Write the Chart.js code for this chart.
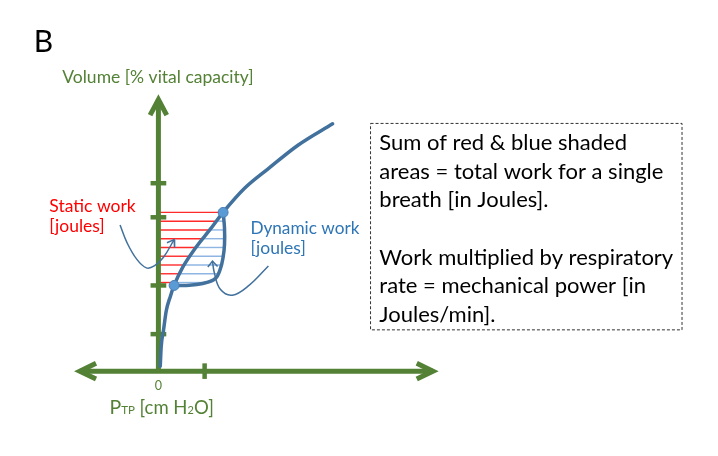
<!DOCTYPE html>
<html>
<head>
<meta charset="utf-8">
<script src="https://cdn.jsdelivr.net/npm/chart.js@4.4.1/dist/chart.umd.min.js"></script>
<style>
  html, body { margin: 0; padding: 0; background: #ffffff; }
  #wrap { width: 718px; height: 456px; }
</style>
</head>
<body>
<div id="wrap"><canvas id="pv-chart" width="718" height="456"></canvas></div>
<script>
/* ===========================
   DATA  (x: PTP [cm H2O], y: volume [% VC])
=========================== */

// inflation limb of the P-V curve
const inflationX = [0.4, 0.6, 1.1, 1.7, 2.6, 3.4, 5.3, 8.1, 11.1, 14.0, 18.7, 23.8, 30.2, 37.7];
const inflationY = [2.5, 12.5, 21, 31, 38.5, 44, 53.5, 63.5, 72.5, 81.5, 94, 104, 116, 127];

// deflation limb (the loop back to the start of the breath)
const deflationX = [14.0, 14.3, 14.3, 14.0, 13.4, 12.3, 9.6, 6.0, 3.4];
const deflationY = [81.5, 73.5, 65, 58.5, 52.5, 47.5, 45, 44, 44];

// end points of the breath
const breathX = [3.4, 14.0];
const breathY = [44, 81.5];

// hatching: red from the axis to the inflation limb, blue from there to the deflation limb
const hatchY = [81.5, 77, 72.5, 68, 63.5, 59, 54.5, 50, 45.5];
const hatchCurveX = [14.0, 12.6, 11.1, 9.6, 8.1, 6.8, 5.5, 4.6, 3.7];
const hatchLoopX = [14.0, 14.2, 14.3, 14.3, 14.3, 14.0, 13.7, 12.9, 10.2];

// axis ticks
const yTicks = [19, 44, 79, 96.5];
const xTicks = [10];
const xTickLabels = ["0"];

// annotation arrows
const staticArrowX = [-8.3, -6.8, -4.7, -2.6, -0.9, 1.1, 3.4];
const staticArrowY = [75, 66, 57.5, 53, 54, 58.5, 67.5];
const staticHeadX = [1.85, 3.4, 3.5];
const staticHeadY = [65.9, 67.5, 63.5];

const dynamicArrowX = [23.8, 19.6, 16.0, 13.4, 12.1, 11.7];
const dynamicArrowY = [54, 44, 39, 42, 50.5, 56.5];
const dynamicHeadX = [10.7, 11.7, 12.8];
const dynamicHeadY = [53.5, 56.5, 53.7];

// axes extent
const yAxisTop = 139.5;
const xAxisLeft = -17.0;
const xAxisRight = 59.4;

// note box
const boxX = [45.9, 113.3, 113.3, 45.9, 45.9];
const boxY = [127.2, 127.2, 21.2, 21.2, 127.2];
const noteLines = [
    "Sum of red & blue shaded",
    "areas = total work for a single",
    "breath [in Joules].",
    "",
    "Work multiplied by respiratory",
    "rate = mechanical power [in",
    "Joules/min]."
];

/* ===========================
   HELPERS
=========================== */

const GREEN = "#538135";
const CURVE = "#41719c";

function xy(xs, ys) {
    return xs.map((x, i) => ({ x: x, y: ys[i] }));
}

function path(points, color, width, extra) {
    return Object.assign({
        data: points,
        showLine: true,
        borderColor: color,
        borderWidth: width,
        pointRadius: 0,
        tension: 0,
        fill: false
    }, extra || {});
}

/* ===========================
   DATASETS
=========================== */

const datasets = [];

// hatching
hatchY.forEach((y, i) => {
    datasets.push(path([{ x: 0, y: y }, { x: hatchCurveX[i], y: y }], "#ff2a2a", 1.4, { order: 50 }));
    if (hatchLoopX[i] > hatchCurveX[i]) {
        datasets.push(path([{ x: hatchCurveX[i], y: y }, { x: hatchLoopX[i], y: y }], "#8fb6e3", 1.4, { order: 50 }));
    }
});

// axes
datasets.push(path([{ x: 0, y: 0 }, { x: 0, y: yAxisTop }], GREEN, 5, { order: 30 }));
datasets.push(path([{ x: xAxisLeft, y: 0 }, { x: xAxisRight, y: 0 }], GREEN, 5, { order: 30 }));

// axis arrow heads
datasets.push(path([{ x: -1.8, y: yAxisTop - 8 }, { x: 0, y: yAxisTop }, { x: 1.8, y: yAxisTop - 8 }],
    GREEN, 5, { order: 30, borderJoinStyle: "miter" }));
datasets.push(path([{ x: xAxisLeft + 3.5, y: 4 }, { x: xAxisLeft, y: 0 }, { x: xAxisLeft + 3.5, y: -4 }],
    GREEN, 5, { order: 30, borderJoinStyle: "miter" }));
datasets.push(path([{ x: xAxisRight - 3.5, y: 4 }, { x: xAxisRight, y: 0 }, { x: xAxisRight - 3.5, y: -4 }],
    GREEN, 5, { order: 30, borderJoinStyle: "miter" }));

// ticks
yTicks.forEach((t) => {
    datasets.push(path([{ x: -1.7, y: t }, { x: 1.7, y: t }], GREEN, 4.5, { order: 30 }));
});
xTicks.forEach((t) => {
    datasets.push(path([{ x: t, y: -4 }, { x: t, y: 4 }], GREEN, 4.5, { order: 30 }));
});

// annotation arrows
datasets.push(path(xy(staticArrowX, staticArrowY), CURVE, 1.5, { order: 25, tension: 0.4 }));
datasets.push(path(xy(staticHeadX, staticHeadY), CURVE, 1.5, { order: 25 }));
datasets.push(path(xy(dynamicArrowX, dynamicArrowY), CURVE, 1.5, { order: 25, tension: 0.4 }));
datasets.push(path(xy(dynamicHeadX, dynamicHeadY), CURVE, 1.5, { order: 25 }));

// P-V loop
datasets.push(path(xy(inflationX, inflationY), CURVE, 3.5,
    { order: 20, cubicInterpolationMode: "monotone", borderCapStyle: "round" }));
datasets.push(path(xy(deflationX, deflationY), CURVE, 3.5,
    { order: 20, tension: 0.4, borderCapStyle: "round" }));

// breath end points
datasets.push({
    data: xy(breathX, breathY),
    showLine: false,
    pointRadius: 5,
    pointBackgroundColor: "#5b9bd5",
    pointBorderColor: "#4a7fb5",
    pointBorderWidth: 1,
    order: 10
});

// note box
datasets.push(path(xy(boxX, boxY), "#333333", 1, { order: 35, borderDash: [3, 2] }));

/* ===========================
   TEXT PLUGIN
=========================== */

const FONT = "Lato, 'Liberation Sans', sans-serif";

const labels = [
    { runs: [["B", 30]], x: -27.0, y: 163.8, color: "#000000" },
    { runs: [["Volume [% vital capacity]", 17.5]], x: -20.8, y: 148, color: GREEN },
    { runs: [["Static work", 17.5]], x: -23.6, y: 81.6, color: "#ff0000" },
    { runs: [["[joules]", 17.5]], x: -23.6, y: 71.4, color: "#ff0000" },
    { runs: [["Dynamic work", 17.2]], x: 19.9, y: 70.5, color: "#2e75b6" },
    { runs: [["[joules]", 17.5]], x: 19.9, y: 60, color: "#2e75b6" },
    { runs: [["P", 19.5], ["TP", 11.5], [" [cm H", 18.5], ["2", 11], ["O]", 18.5]], x: -10.6, y: -22, color: GREEN }
];

const textPlugin = {
    id: "diagramText",
    afterDatasetsDraw(chart) {
        const ctx = chart.ctx;
        const sx = chart.scales.x;
        const sy = chart.scales.y;

        ctx.save();
        ctx.textBaseline = "alphabetic";

        labels.forEach((lab) => {
            let px = sx.getPixelForValue(lab.x);
            const py = sy.getPixelForValue(lab.y);
            ctx.fillStyle = lab.color;
            lab.runs.forEach(([txt, size]) => {
                ctx.font = size + "px " + FONT;
                ctx.textAlign = "left";
                ctx.fillText(txt, px, py);
                px += ctx.measureText(txt).width;
            });
        });

        // x tick labels
        ctx.fillStyle = GREEN;
        ctx.font = "12.5px " + FONT;
        ctx.textAlign = "center";
        xTickLabels.forEach((t, i) => {
            const v = i === 0 ? 0 : xTicks[i - 1];
            ctx.fillText(t, sx.getPixelForValue(v), sy.getPixelForValue(-9.5));
        });

        // note text
        ctx.fillStyle = "#000000";
        ctx.font = "22px " + FONT;
        ctx.textAlign = "left";
        noteLines.forEach((line, i) => {
            ctx.fillText(line, sx.getPixelForValue(47.8), sy.getPixelForValue(113.35 - i * 14.65));
        });

        ctx.restore();
    }
};

/* ===========================
   CHART
=========================== */

new Chart(document.getElementById("pv-chart"), {
    type: "scatter",
    data: { datasets: datasets },
    options: {
        responsive: false,
        animation: false,
        events: [],
        layout: { padding: 0 },
        plugins: {
            legend: { display: false },
            tooltip: { enabled: false }
        },
        scales: {
            x: { type: "linear", display: false, min: -155 / 4.7, max: 563 / 4.7 },
            y: { type: "linear", display: false, min: -40.5, max: 187.5 }
        }
    },
    plugins: [textPlugin]
});
</script>
</body>
</html>
